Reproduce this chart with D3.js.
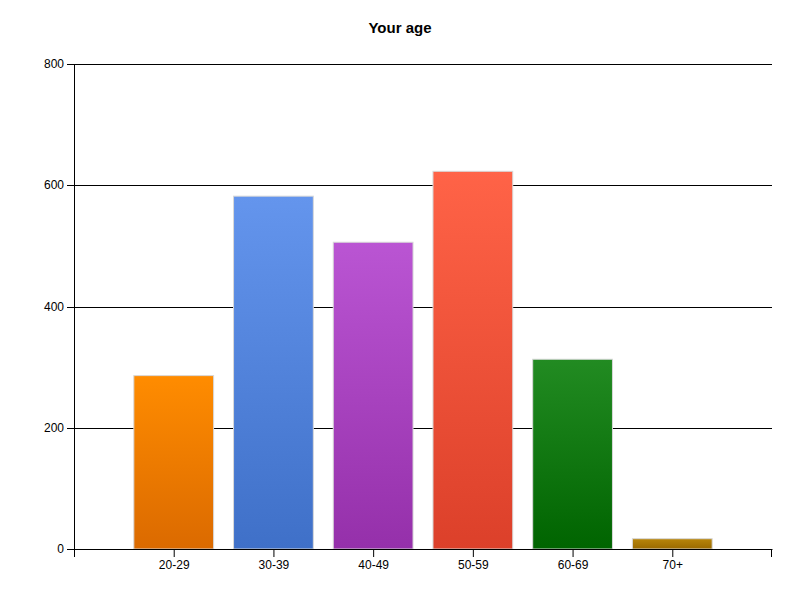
<!DOCTYPE html>
<html>
<head>
<meta charset="utf-8">
<script src="https://cdn.jsdelivr.net/npm/d3@7"></script>
<style>
  body { margin: 0; background: #fff; }
  text { font-family: Arial, "Liberation Sans", sans-serif; }
</style>
</head>
<body>
<div id="chart"></div>
<script>
var categories = ["20-29", "30-39", "40-49", "50-59", "60-69", "70+"];
var counts = [286, 582, 506, 623, 313, 17];
var topColors = ["#FF8C00", "#6495ED", "#BA55D3", "#FF6347", "#228B22", "#B8860B"];
var bottomColors = ["#DB6A00", "#3F70C8", "#9530AA", "#DC402A", "#006400", "#9A6A00"];
var yTicks = [0, 200, 400, 600, 800];

var svg = d3.select("#chart")
    .append("svg")
    .attr("width", 800)
    .attr("height", 600),
    margin = { top: 64, right: 28, bottom: 51, left: 74 },
    width = +svg.attr("width") - margin.left - margin.right,
    height = +svg.attr("height") - margin.top - margin.bottom;

var defs = svg.append("defs");
categories.forEach(function (c, i) {
    var g = defs.append("linearGradient")
        .attr("id", "grad" + i)
        .attr("x1", 0).attr("y1", 0).attr("x2", 0).attr("y2", 1);
    g.append("stop").attr("offset", "0%").attr("stop-color", topColors[i]);
    g.append("stop").attr("offset", "100%").attr("stop-color", bottomColors[i]);
});

// title
svg.append("text")
    .attr("x", 400)
    .attr("y", 33)
    .attr("text-anchor", "middle")
    .style("font-size", "15px")
    .style("font-weight", "bold")
    .text("Your age");

var chart = svg.append("g")
    .attr("transform", "translate(" + margin.left + "," + margin.top + ")");

// x: categories sit at 1..n on a 0..n+1 range
var x = d3.scaleLinear()
    .domain([0, categories.length + 1])
    .range([0, width]);

var y = d3.scaleLinear()
    .domain([0, 800])
    .range([height, 0]);

var step = x(1) - x(0);
var barW = step * 0.8;

// gridlines (snapped to whole pixels so they stay crisp)
chart.append("g")
    .attr("class", "grid")
    .selectAll("line")
    .data(yTicks.filter(function (d) { return d > 0; }))
    .enter().append("line")
    .attr("x1", 0)
    .attr("x2", width)
    .attr("y1", function (d) { return Math.round(y(d)) + 0.5; })
    .attr("y2", function (d) { return Math.round(y(d)) + 0.5; })
    .attr("stroke", "#000")
    .attr("stroke-width", 1);

// bars
chart.selectAll(".bar")
    .data(counts)
    .enter().append("rect")
    .attr("class", "bar")
    .attr("x", function (d, i) { return x(i + 1) - barW / 2; })
    .attr("y", function (d) { return y(d); })
    .attr("width", barW)
    .attr("height", function (d) { return height - y(d); })
    .attr("fill", function (d, i) { return "url(#grad" + i + ")"; })
    .attr("stroke", "#d8d8d8")
    .attr("stroke-width", 1);

// y axis
var yAxis = chart.append("g")
    .call(d3.axisLeft(y).tickValues(yTicks).tickSize(7).tickPadding(3).tickSizeOuter(0));
yAxis.select(".domain").remove();
yAxis.selectAll(".tick")
    .attr("transform", function (d) { return "translate(0," + (Math.round(y(d)) + 0.5) + ")"; });
yAxis.append("line")
    .attr("x1", 0.5).attr("x2", 0.5)
    .attr("y1", 0).attr("y2", height + 8)
    .attr("stroke", "#000");
yAxis.selectAll("text").style("font-size", "12px").attr("fill", "#000");
yAxis.selectAll(".tick line").attr("stroke", "#000");

// x axis
var xAxis = chart.append("g")
    .attr("transform", "translate(0," + height + ")")
    .call(d3.axisBottom(x)
        .tickValues(d3.range(1, categories.length + 1))
        .tickFormat(function (d) { return categories[d - 1]; })
        .tickSize(8)
        .tickPadding(3)
        .tickSizeOuter(0));
xAxis.select(".domain").attr("stroke", "#000");
xAxis.selectAll("text").style("font-size", "12px").attr("fill", "#000");
xAxis.selectAll(".tick line").attr("stroke", "#000");
xAxis.append("line")
    .attr("x1", width - 0.5).attr("x2", width - 0.5)
    .attr("y1", 0).attr("y2", 8)
    .attr("stroke", "#000");
</script>
</body>
</html>
